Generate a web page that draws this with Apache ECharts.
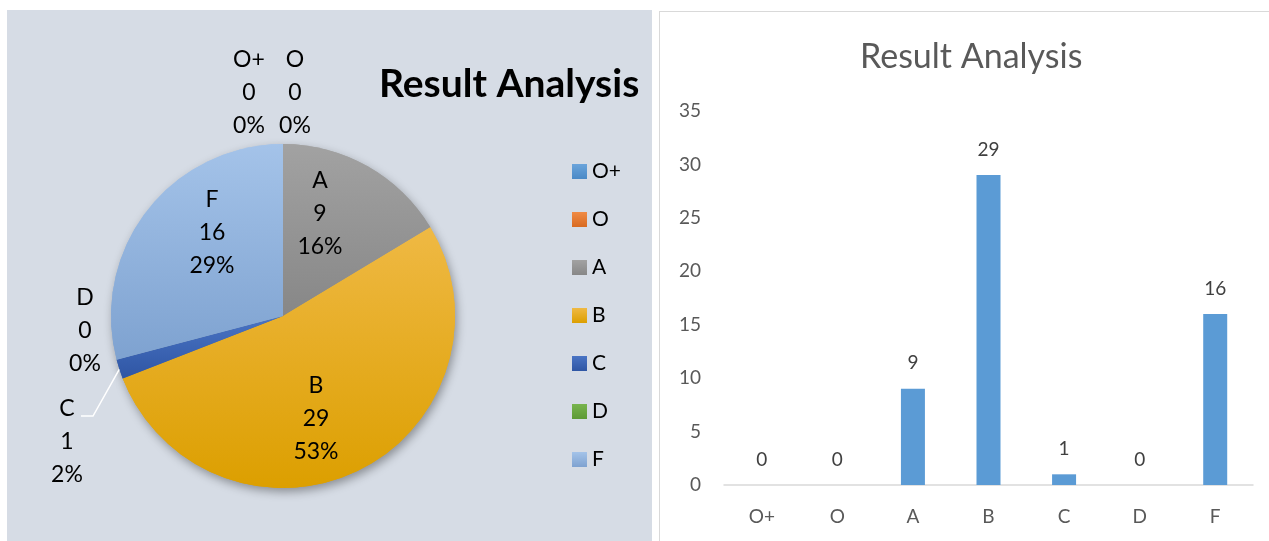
<!DOCTYPE html>
<html>
<head>
<meta charset="utf-8">
<script src="https://cdn.jsdelivr.net/npm/echarts@6/dist/echarts.min.js"></script>
<style>
  html, body { margin: 0; padding: 0; background: #fff; width: 1269px; height: 541px; overflow: hidden; }
  #pieBox { position: absolute; left: 7px; top: 10px; width: 645px; height: 540px; background: #d6dce5; }
  #barBox { position: absolute; left: 659px; top: 11px; width: 620px; height: 540px; border: 1px solid #d9d9d9; background: #fff; }
  #pieChart, #barChart { width: 100%; height: 100%; }
</style>
</head>
<body>
<div id="pieBox"><div id="pieChart"></div></div>
<div id="barBox"><div id="barChart"></div></div>
<script>
// grades and number of students
var grades = ['O+', 'O', 'A', 'B', 'C', 'D', 'F'];
var counts = [0, 0, 9, 29, 1, 0, 16];
var yTicks = [0, 5, 10, 15, 20, 25, 30, 35];

// slice colours (top, bottom of the gradient)
var sliceTop = ['#6aa4db', '#f08b45', '#a2a2a2', '#efb944', '#4a74c4', '#78b44e', '#a4c3e9'];
var sliceBot = ['#4a89c6', '#d86a20', '#878787', '#dc9f00', '#2f56a4', '#5d9a35', '#7ea2d0'];

// where excel put the pie labels (centre of the text block)
var labelPos = {
    'O+': [242, 83],
    'O': [288, 83],
    'A': [313, 204],
    'B': [309, 409],
    'C': [60, 432],
    'D': [78, 321],
    'F': [205, 223]
};
var outsideOnes = ['O+', 'O', 'C', 'D'];

var font = 'Lato, "Open Sans", sans-serif';

function grad(i) {
    return new echarts.graphic.LinearGradient(0, 0, 0, 1, [
        {offset: 0, color: sliceTop[i]},
        {offset: 1, color: sliceBot[i]}
    ]);
}

var pieData = [];
var shadowData = [];
for (var i = 0; i < grades.length; i++) {
    var out = outsideOnes.indexOf(grades[i]) >= 0;
    pieData.push({
        name: grades[i],
        value: counts[i],
        itemStyle: {color: grad(i)},
        label: {position: out ? 'outside' : 'inside'},
        labelLine: {show: grades[i] == 'C'}
    });
    shadowData.push({name: grades[i], value: counts[i], itemStyle: {color: grad(i)}});
}

var pieChart = echarts.init(document.getElementById('pieChart'));
pieChart.setOption({
    animation: false,
    textStyle: {fontFamily: font},
    title: {
        text: 'Result Analysis',
        left: 367,
        top: 50,
        textStyle: {fontFamily: font, fontSize: 39, fontWeight: 'bold', color: '#000'}
    },
    legend: {
        orient: 'vertical',
        left: 560,
        top: 146,
        itemWidth: 15,
        itemHeight: 15,
        itemGap: 27,
        icon: 'rect',
        data: grades,
        textStyle: {fontFamily: font, fontSize: 21, lineHeight: 21, color: '#000'}
    },
    series: [{
        // only used for the soft drop shadow under the pie
        type: 'pie',
        silent: true,
        z: 1,
        center: [276, 306],
        radius: 172,
        startAngle: 90,
        label: {show: false},
        labelLine: {show: false},
        itemStyle: {
            shadowBlur: 10,
            shadowOffsetX: 2,
            shadowOffsetY: 4,
            shadowColor: 'rgba(0,0,0,0.35)'
        },
        legendHoverLink: false,
        data: shadowData
    }, {
        type: 'pie',
        z: 2,
        center: [276, 306],
        radius: 172,
        startAngle: 90,
        avoidLabelOverlap: false,
        label: {
            show: true,
            color: '#000',
            fontFamily: font,
            fontSize: 23,
            lineHeight: 33,
            align: 'center',
            formatter: function (p) {
                return p.name + '\n' + p.value + '\n' + Math.round(p.percent) + '%';
            }
        },
        labelLine: {
            length: 20,
            length2: 10,
            lineStyle: {color: '#fff', width: 1.5}
        },
        labelLayout: function (p) {
            var name = grades[p.dataIndex];
            var pos = labelPos[name];
            var res = {x: pos[0], y: pos[1], align: 'center', verticalAlign: 'middle'};
            if (name == 'C' && p.labelLinePoints) {
                // leader line: from the slice edge, down to the right side of the "C"
                res.labelLinePoints = [
                    p.labelLinePoints[0],
                    [pos[0] + 26, pos[1] - 26],
                    [pos[0] + 14, pos[1] - 26]
                ];
            }
            return res;
        },
        data: pieData
    }]
});

var barChart = echarts.init(document.getElementById('barChart'));
barChart.setOption({
    animation: false,
    textStyle: {fontFamily: font},
    title: {
        text: 'Result Analysis',
        left: 195,
        top: 23,
        textStyle: {fontFamily: font, fontSize: 34, fontWeight: 'normal', color: '#595959'}
    },
    grid: {left: 64, top: 99, width: 529, height: 374},
    xAxis: {
        type: 'category',
        data: grades,
        axisLine: {lineStyle: {color: '#d9d9d9', width: 1.5}},
        axisTick: {show: false},
        axisLabel: {color: '#595959', fontSize: 19, margin: 22}
    },
    yAxis: {
        type: 'value',
        min: yTicks[0],
        max: yTicks[yTicks.length - 1],
        interval: 5,
        splitLine: {show: false},
        axisLine: {show: false},
        axisTick: {show: false},
        axisLabel: {color: '#595959', fontSize: 19, margin: 23}
    },
    series: [{
        type: 'bar',
        data: counts,
        barWidth: 24,
        itemStyle: {color: '#5b9bd5'},
        label: {
            show: true,
            position: 'top',
            distance: 16,
            color: '#404040',
            fontSize: 19
        }
    }]
});
</script>
</body>
</html>
